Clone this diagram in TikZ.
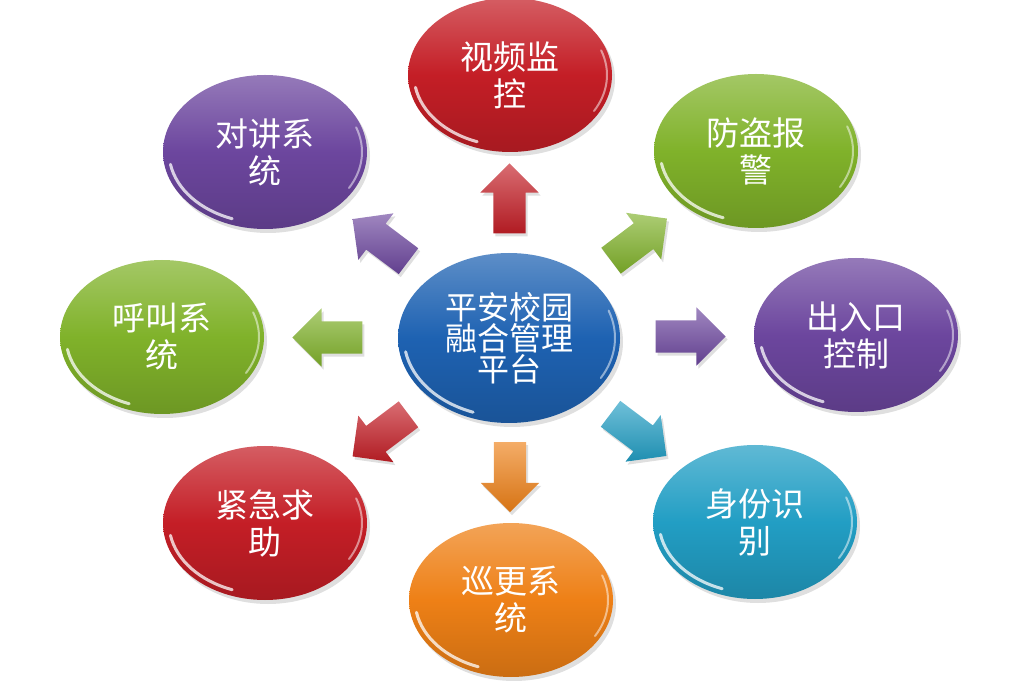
\documentclass[tikz,border=0pt]{standalone}
\usepackage{fontspec}
\newfontfamily\cjk{Noto Sans CJK SC}
\usepackage{xcolor}
\usepackage{tikz}
\usetikzlibrary{shapes.geometric, shapes.arrows, shadows, calc, positioning}
\definecolor{campus_blue}{RGB}{30, 98, 178}
\definecolor{campus_red}{RGB}{196, 30, 38}
\definecolor{campus_green}{RGB}{128, 178, 42}
\definecolor{campus_purple}{RGB}{108, 70, 158}
\definecolor{campus_cyan}{RGB}{34, 158, 196}
\definecolor{campus_orange}{RGB}{238, 128, 22}

\begin{document}
\begin{tikzpicture}[x=1pt, y=1pt,
    bubble/.style={ellipse, inner sep=0pt, minimum width=204pt, minimum height=154pt,
      top color=#1!72!white, bottom color=#1!85!black, middle color=#1,
      drop shadow={opacity=.25, shadow xshift=3pt, shadow yshift=-4pt},
      text=white, align=center, font=\cjk\fontsize{33}{37}\selectfont,
      path picture={
        \draw[white, opacity=.75, line width=3pt, line cap=round]
          let \p1=($(path picture bounding box.north east)-(path picture bounding box.center)$) in
          ($(path picture bounding box.center)+(190:{\x1-6pt} and {\y1-6pt})$)
          arc[start angle=190, end angle=250, x radius=\x1-6pt, y radius=\y1-6pt];
        \draw[white, opacity=.5, line width=2pt, line cap=round]
          let \p1=($(path picture bounding box.north east)-(path picture bounding box.center)$) in
          ($(path picture bounding box.center)+(-30:{\x1-5pt} and {\y1-5pt})$)
          arc[start angle=-30, end angle=20, x radius=\x1-5pt, y radius=\y1-5pt];
      }},
    arrowbox/.style={single arrow, inner xsep=0pt, inner ysep=16pt,
      minimum height=70pt, minimum width=58pt, single arrow head extend=13pt,
      top color=#1!65!white, bottom color=#1!90!black,
      drop shadow={opacity=.25, shadow xshift=2pt, shadow yshift=-3pt}}]
  \useasboundingbox (0,0) rectangle (1024,680);
  % centre platform
  \node[bubble=campus_blue, minimum width=222pt, minimum height=170pt,
    font=\cjk\fontsize{32}{31}\selectfont] (hub) at (509,342) {平安校园\\融合管理\\平台};
  % subsystems and their arrows
  \foreach \nm/\px/\py/\ang/\col/\txt in {
      video/510/605/90/campus_red/{视频监\\控},
      alarm/756/529/37/campus_green/{防盗报\\警},
      access/856/345/0/campus_purple/{出入口\\控制},
      ident/755/158/-37/campus_cyan/{身份识\\别},
      patrol/511/80/-90/campus_orange/{巡更系\\统},
      rescue/265/157/-143/campus_red/{紧急求\\助},
      call/162/343/180/campus_green/{呼叫系\\统},
      intercom/265/528/143/campus_purple/{对讲系\\统}} {
    \node[bubble=\col] (\nm) at (\px,\py) {\txt};
    \node[arrowbox=\col, rotate=\ang] (a-\nm) at ($(hub)!0.5!(\nm)$) {};
  }
\end{tikzpicture}
\end{document}
